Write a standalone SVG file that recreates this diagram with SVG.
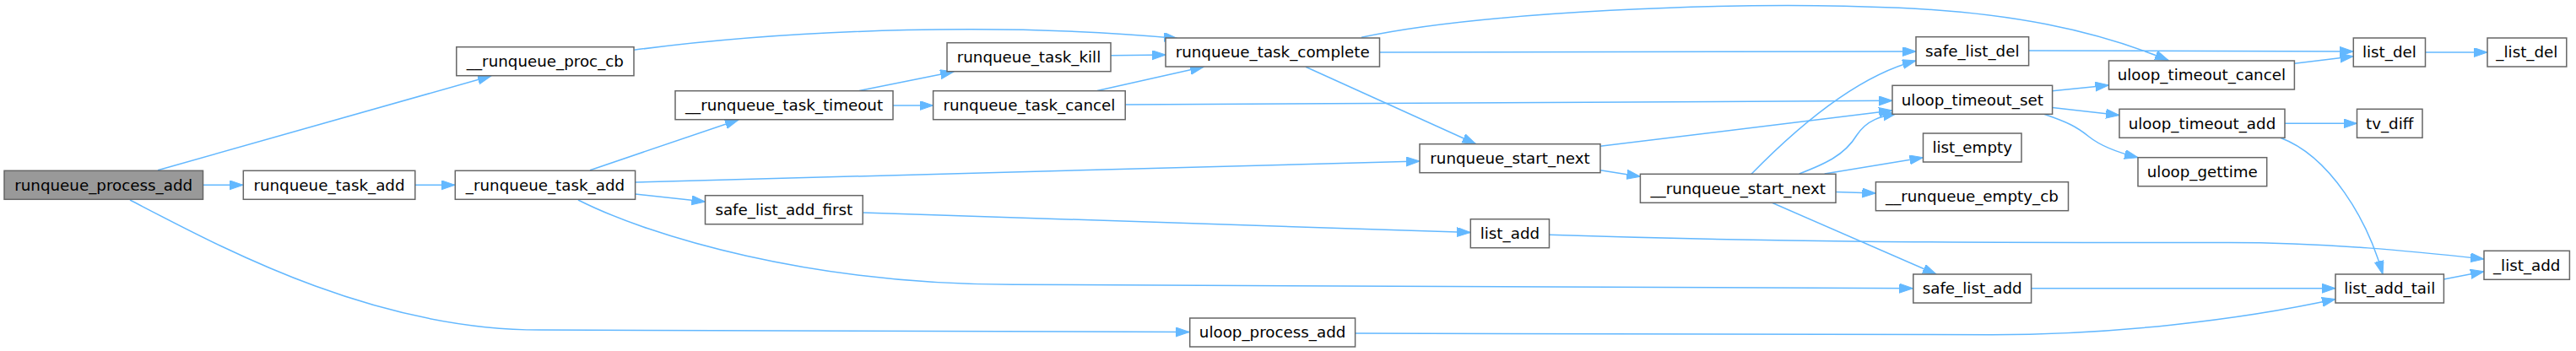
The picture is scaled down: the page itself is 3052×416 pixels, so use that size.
<svg xmlns="http://www.w3.org/2000/svg" width="3052" height="416" viewBox="0 0 3052 416">
<style>
.n rect{fill:#ffffff;stroke:#666666;stroke-width:1.5}
.n.root rect{fill:#999999}
.n text{font-family:"DejaVu Sans",sans-serif;font-size:18.3px;fill:#000000;text-anchor:middle}
.e path{fill:none;stroke:#63b8ff;stroke-width:1.5;marker-end:url(#ah)}
</style>
<defs>
<marker id="ah" markerUnits="userSpaceOnUse" markerWidth="17" markerHeight="12" refX="16" refY="5.5" orient="auto" viewBox="0 0 17 12">
<path d="M0,0 L16,5.5 L0,11 Z" fill="#63b8ff" stroke="#63b8ff" stroke-width="1"/>
</marker>
</defs>
<rect width="3052" height="416" fill="#ffffff"/>
<g id="edges" class="e">
<path d="M187,201.7 L582,90"/>
<path d="M240.8,219.3 L288,219.3"/>
<path d="M154,237 C260,292 440,391 640,391 L1409,393.5"/>
<path d="M492,219.3 L539,219.3"/>
<path d="M751,59.3 C950,33 1200,27 1395,45.5"/>
<path d="M699,201.7 L875,142"/>
<path d="M752.6,216 L1682,191"/>
<path d="M752.6,230 L835.5,239"/>
<path d="M685,237 C770,280 960,337.3 1200,337.3 L2266.5,341.7"/>
<path d="M1018,107.5 L1130,85"/>
<path d="M1058,125 L1105.6,125"/>
<path d="M1316,65.7 L1381,65"/>
<path d="M1300,107.5 L1426,79.3"/>
<path d="M1333,124 L2242,119.3"/>
<path d="M1613,44.3 C1750,15 2050,0 2250,9.3 C2380,15 2480,35 2569,71.5"/>
<path d="M1634.5,62 L2270,61"/>
<path d="M1547,79.3 L1748.5,170.5"/>
<path d="M1896,173.3 L2242,131"/>
<path d="M1896,201.7 L1943.4,209.3"/>
<path d="M2075,206.3 C2130,150 2200,90 2270,72"/>
<path d="M2131.7,206 C2160,195 2185,185 2200,160 C2212,142 2228,138 2247,134.5"/>
<path d="M2161.7,206 L2278.5,186.7"/>
<path d="M2175,227.5 L2222.4,229"/>
<path d="M2099.5,240.3 L2294,325"/>
<path d="M1022.2,252 L1742.3,275.5"/>
<path d="M1835.5,278.3 C2100,287 2300,287.5 2640,287.5 C2760,287.5 2860,298 2943,307"/>
<path d="M1605.6,395 L2360,396.7 C2500,396.7 2650,380 2767,354.5"/>
<path d="M2403.6,60 L2788.3,61"/>
<path d="M2718.4,75.3 L2788.3,66.7"/>
<path d="M2873.5,62 L2947,62"/>
<path d="M2431.6,107.7 L2498.5,101"/>
<path d="M2431.6,127.5 L2511,136.5"/>
<path d="M2421.7,135.3 C2450,145 2460,150 2475,162 C2490,174 2510,181 2533,186.7"/>
<path d="M2707,146.3 L2792.5,146.3"/>
<path d="M2701.7,163.3 C2760,185 2805,260 2823,325"/>
<path d="M2406.6,341.7 L2767,341.7"/>
<path d="M2895.4,331 L2943,321.7"/>
</g>
<g id="runqueue_process_add" class="n root"><rect x="5" y="202.3" width="235.5" height="34"/><text x="122.7" y="225.7">runqueue_process_add</text></g>
<g id="runqueue_task_add" class="n"><rect x="288.3" y="202.3" width="203.5" height="34"/><text x="390" y="225.7">runqueue_task_add</text></g>
<g id="_runqueue_task_add" class="n"><rect x="539.3" y="202.3" width="213.3" height="34"/><text x="646" y="225.7">_runqueue_task_add</text></g>
<g id="__runqueue_proc_cb" class="n"><rect x="540.8" y="55.7" width="210.2" height="34"/><text x="645.9" y="79.1">__runqueue_proc_cb</text></g>
<g id="__runqueue_task_timeout" class="n"><rect x="800" y="107.7" width="258" height="34"/><text x="929" y="131.1">__runqueue_task_timeout</text></g>
<g id="runqueue_task_kill" class="n"><rect x="1122" y="50.7" width="194" height="34"/><text x="1219" y="74.1">runqueue_task_kill</text></g>
<g id="runqueue_task_cancel" class="n"><rect x="1105.6" y="107.7" width="227.6" height="34"/><text x="1219.4" y="131.1">runqueue_task_cancel</text></g>
<g id="runqueue_task_complete" class="n"><rect x="1381" y="45" width="253.5" height="34"/><text x="1507.7" y="68.4">runqueue_task_complete</text></g>
<g id="safe_list_add_first" class="n"><rect x="835.5" y="231.7" width="186.7" height="34"/><text x="928.8" y="255.1">safe_list_add_first</text></g>
<g id="uloop_process_add" class="n"><rect x="1409.7" y="377" width="195.9" height="34"/><text x="1507.6" y="400.4">uloop_process_add</text></g>
<g id="runqueue_start_next" class="n"><rect x="1682" y="170.7" width="214" height="34"/><text x="1789" y="194.1">runqueue_start_next</text></g>
<g id="__runqueue_start_next" class="n"><rect x="1943.4" y="206.3" width="231.6" height="34"/><text x="2059.2" y="229.7">__runqueue_start_next</text></g>
<g id="list_add" class="n"><rect x="1742.3" y="259.7" width="93.2" height="34"/><text x="1788.9" y="283.1">list_add</text></g>
<g id="safe_list_del" class="n"><rect x="2270" y="43.7" width="133.6" height="34"/><text x="2336.8" y="67.1">safe_list_del</text></g>
<g id="uloop_timeout_set" class="n"><rect x="2242" y="101.3" width="189.6" height="34"/><text x="2336.8" y="124.7">uloop_timeout_set</text></g>
<g id="list_empty" class="n"><rect x="2278.5" y="158" width="116.5" height="34"/><text x="2336.7" y="181.4">list_empty</text></g>
<g id="__runqueue_empty_cb" class="n"><rect x="2222.4" y="215.7" width="228.1" height="34"/><text x="2336.4" y="239.1">__runqueue_empty_cb</text></g>
<g id="safe_list_add" class="n"><rect x="2266.8" y="325" width="139.8" height="34"/><text x="2336.7" y="348.4">safe_list_add</text></g>
<g id="uloop_timeout_cancel" class="n"><rect x="2498.5" y="72" width="219.9" height="34"/><text x="2608.4" y="95.4">uloop_timeout_cancel</text></g>
<g id="uloop_timeout_add" class="n"><rect x="2511" y="129.3" width="196" height="34"/><text x="2609" y="152.7">uloop_timeout_add</text></g>
<g id="uloop_gettime" class="n"><rect x="2533" y="186.7" width="152.7" height="34"/><text x="2609.3" y="210.1">uloop_gettime</text></g>
<g id="list_del" class="n"><rect x="2788.3" y="45" width="85.2" height="34"/><text x="2830.9" y="68.4">list_del</text></g>
<g id="_list_del" class="n"><rect x="2947" y="45" width="93.8" height="34"/><text x="2993.9" y="68.4">_list_del</text></g>
<g id="tv_diff" class="n"><rect x="2792.5" y="129.3" width="77.5" height="34"/><text x="2831.2" y="152.7">tv_diff</text></g>
<g id="list_add_tail" class="n"><rect x="2767" y="325" width="128.4" height="34"/><text x="2831.2" y="348.4">list_add_tail</text></g>
<g id="_list_add" class="n"><rect x="2943" y="297.3" width="101.4" height="34"/><text x="2993.7" y="320.7">_list_add</text></g>
</svg>
